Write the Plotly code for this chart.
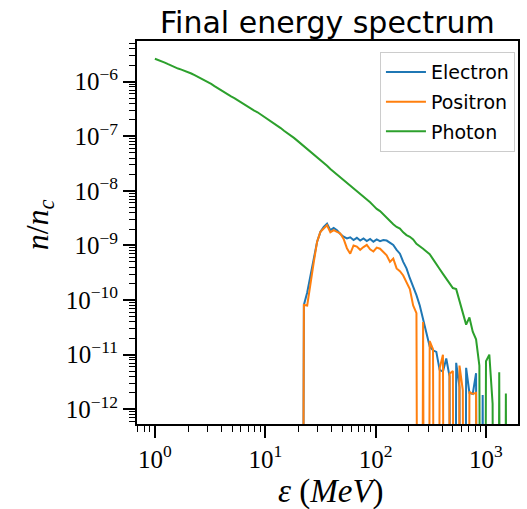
import plotly.graph_objects as go

# Energy bin centres (MeV), log-spaced
energy = [1.000, 1.072, 1.148, 1.230, 1.318, 1.413, 1.514, 1.622, 1.738, 1.862,
          1.995, 2.138, 2.291, 2.455, 2.630, 2.818, 3.020, 3.236, 3.467, 3.715,
          3.981, 4.266, 4.571, 4.898, 5.248, 5.623, 6.026, 6.457, 6.918, 7.413,
          7.943, 8.511, 9.120, 9.772, 10.47, 11.22, 12.02, 12.88, 13.80, 14.79,
          15.85, 16.98, 18.20, 19.50, 20.89, 22.39, 23.99, 25.70, 27.54, 29.51,
          31.62, 33.88, 36.31, 38.90, 41.69, 44.67, 47.86, 51.29, 54.95, 58.88,
          63.10, 67.61, 72.44, 77.62, 83.18, 89.13, 95.50, 102.3, 109.6, 117.5,
          125.9, 134.9, 144.5, 154.9, 166.0, 177.8, 190.5, 204.2, 218.8, 234.4,
          251.2, 269.2, 288.4, 309.0, 331.1, 354.8, 380.2, 407.4, 436.5, 467.7,
          501.2, 537.0, 575.4, 616.6, 660.7, 707.9, 758.6, 812.8, 871.0, 933.3,
          1000.0, 1072.0, 1148.0, 1230.0, 1318.0, 1413.0, 1514.0, 1622.0]

# log10(n/n_c); None = empty bin (zero count)
photon_log10 = [-5.58, -5.60, -5.62, -5.65, -5.68, -5.71, -5.73, -5.76, -5.78, -5.80,
                -5.83, -5.85, -5.88, -5.91, -5.94, -5.98, -6.01, -6.04, -6.08, -6.12,
                -6.15, -6.19, -6.23, -6.27, -6.30, -6.34, -6.38, -6.42, -6.45, -6.49,
                -6.53, -6.56, -6.60, -6.64, -6.68, -6.72, -6.76, -6.81, -6.85, -6.90,
                -6.94, -6.98, -7.03, -7.08, -7.13, -7.18, -7.23, -7.28, -7.33, -7.38,
                -7.44, -7.49, -7.54, -7.60, -7.65, -7.70, -7.76, -7.81, -7.86, -7.91,
                -7.96, -8.00, -8.05, -8.10, -8.15, -8.21, -8.27, -8.33, -8.37, -8.43,
                -8.50, -8.55, -8.61, -8.66, -8.69, -8.76, -8.81, -8.84, -8.89, -8.97,
                -9.01, -9.06, -9.11, -9.16, -9.25, -9.33, -9.43, -9.52, -9.61, -9.71,
                -9.78, -9.80, -10.02, -10.22, -10.45, -10.32, -10.58, -10.72, -11.20, None,
                -11.12, -11.00, -11.90, None, -11.32, None, -11.71, None]

# electrons / positrons start at energy index 44
lepton_start = 44
electron_log10 = [None, -10.09, -9.86, -9.54, -9.23, -8.93, -8.75, -8.66, -8.60, -8.72,
                  -8.68, -8.72, -8.79, -8.84, -8.87, -8.85, -8.90, -8.86, -8.91, -8.87,
                  -8.92, -8.88, -8.93, -8.89, -8.92, -8.90, -8.91, -8.95, -8.99, -9.08,
                  -9.15, -9.30, -9.42, -9.60, -9.75, -9.91, -10.10, -10.37, -10.61, -10.85,
                  -10.92, -10.95, -11.28, -11.31, -11.07, -11.40, None, -11.15, -11.60, None,
                  -11.24, -11.70, -11.72, -11.34, None, -11.74, None]
positron_log10 = [None, -10.09, -10.10, -9.66, -9.30, -8.93, -8.75, -8.69, -8.63, -8.76,
                  -8.72, -8.75, -8.78, -8.88, -9.05, -9.15, -9.00, -9.02, -9.08, -9.03,
                  -8.99, -9.07, -9.11, -9.04, -9.06, -9.12, -9.18, -9.30, -9.24, -9.42,
                  -9.47, -9.55, -9.68, -9.80, -10.10, -10.24, None, -10.40, None, -10.75,
                  -10.90, None, -11.25, -11.00, None, -11.35, -11.30, None, -11.20, -11.65,
                  None, -11.68, -11.72, -11.70, None]

labels = ["Electron", "Positron", "Photon"]
colors = ["#1f77b4", "#ff7f0e", "#2ca02c"]

x_tick_vals = [1, 10, 100, 1000]
x_tick_text = ["10<sup>0</sup>", "10<sup>1</sup>", "10<sup>2</sup>", "10<sup>3</sup>"]
y_tick_vals = [1e-12, 1e-11, 1e-10, 1e-9, 1e-8, 1e-7, 1e-6]
y_tick_text = ["10<sup>\u221212</sup>", "10<sup>\u221211</sup>", "10<sup>\u221210</sup>",
               "10<sup>\u22129</sup>", "10<sup>\u22128</sup>", "10<sup>\u22127</sup>",
               "10<sup>\u22126</sup>"]

# empty bins: drawn far below the axis so the line drops off the plot (as in log clip)
FLOOR = 1e-30


def to_values(logs):
    return [FLOOR if v is None else 10 ** v for v in logs]


series = [
    (energy[lepton_start:lepton_start + len(electron_log10)], to_values(electron_log10)),
    (energy[lepton_start:lepton_start + len(positron_log10)], to_values(positron_log10)),
    (energy, to_values(photon_log10)),
]

fig = go.Figure()
for (xs, ys), name, col in zip(series, labels, colors):
    fig.add_trace(go.Scatter(x=xs, y=ys, mode="lines", name=name,
                             legendgroup=name,
                             line=dict(color=col, width=2)))

serif = "Liberation Serif"
axis_common = dict(
    type="log", showline=True, mirror=True, linecolor="black", linewidth=1.8,
    ticks="outside", ticklen=12, tickwidth=2, tickcolor="black",
    tickfont=dict(family=serif, size=25, color="black"),
    showgrid=False, zeroline=False, tickmode="array",
    minor=dict(ticks="outside", ticklen=6, tickwidth=1.3, tickcolor="black",
               dtick="D1", showgrid=False),
)

fig.update_layout(
    width=527, height=509,
    margin=dict(l=137, r=7, t=41, b=85),
    plot_bgcolor="white", paper_bgcolor="white",
    xaxis=dict(range=[-0.162, 3.29], tickvals=x_tick_vals, ticktext=x_tick_text, **axis_common),
    yaxis=dict(range=[-12.27, -5.255], tickvals=y_tick_vals, ticktext=y_tick_text, **axis_common),
    legend=dict(x=0.992, y=0.971, xanchor="right", yanchor="top",
                bgcolor="white", bordercolor="#cccccc", borderwidth=1,
                font=dict(family="DejaVu Sans", size=19, color="black"),
                tracegroupgap=2, itemwidth=40),
    showlegend=True,
    annotations=[
        dict(text="Final energy spectrum", x=0.5, y=1.0496, xref="paper", yref="paper",
             xanchor="center", yanchor="middle", showarrow=False,
             font=dict(family="DejaVu Sans", size=30, color="black")),
        dict(text="<i>\u03b5</i> (<i>MeV</i>)", x=0.509, y=-0.1775, xref="paper", yref="paper",
             xanchor="center", yanchor="middle", showarrow=False,
             font=dict(family=serif, size=33, color="black")),
        dict(text="<i>n</i>/<i>n</i><sub><i>c</i></sub>", x=-0.256, y=0.52,
             xref="paper", yref="paper", xanchor="center", yanchor="middle",
             showarrow=False, textangle=-90,
             font=dict(family=serif, size=32, color="black")),
    ],
)

fig.write_html("out.html")
